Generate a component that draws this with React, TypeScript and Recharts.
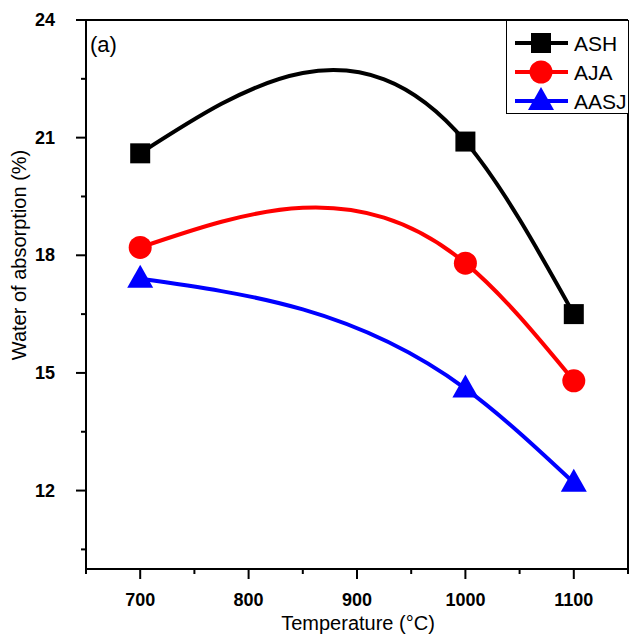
import React from 'react';
import { LineChart, Line, XAxis, YAxis, ReferenceLine, Legend } from 'recharts';

const temps = [700, 1000, 1100];
const ash = [20.6, 20.9, 16.5];
const aja = [18.2, 17.8, 14.8];
const aasj = [17.4, 14.6, 12.2];

const xTicks = [650, 700, 750, 800, 850, 900, 950, 1000, 1050, 1100, 1150];
const xMajor = [700, 800, 900, 1000, 1100];
const yTicks = [10.5, 12, 13.5, 15, 16.5, 18, 19.5, 21, 22.5, 24];
const yMajor = [12, 15, 18, 21, 24];

const data = temps.map((t, i) => ({ temp: t, ASH: ash[i], AJA: aja[i], AASJ: aasj[i] }));

const FONT = "Arial, 'Liberation Sans', sans-serif";

const series = [
  { key: 'ASH', color: '#000000', shape: 'square' },
  { key: 'AJA', color: '#ff0000', shape: 'circle' },
  { key: 'AASJ', color: '#0000ff', shape: 'triangle' },
];

// natural cubic spline y(x) through the scaled points (like Origin's spline connector)
const naturalSplineX = (context: any) => {
  let xs: number[] = [];
  let ys: number[] = [];
  return {
    areaStart() {},
    areaEnd() {},
    lineStart() {
      xs = [];
      ys = [];
    },
    point(x: number, y: number) {
      xs.push(+x);
      ys.push(+y);
    },
    lineEnd() {
      const n = xs.length;
      if (!n) return;
      context.moveTo(xs[0], ys[0]);
      if (n === 1) return;
      if (n === 2) {
        context.lineTo(xs[1], ys[1]);
        return;
      }
      const h: number[] = [];
      for (let i = 0; i < n - 1; i++) h.push(xs[i + 1] - xs[i]);
      const M = new Array(n).fill(0);
      const a: number[] = [], b: number[] = [], c: number[] = [], r: number[] = [];
      for (let i = 1; i < n - 1; i++) {
        a.push(h[i - 1]);
        b.push(2 * (h[i - 1] + h[i]));
        c.push(h[i]);
        r.push(6 * ((ys[i + 1] - ys[i]) / h[i] - (ys[i] - ys[i - 1]) / h[i - 1]));
      }
      const m = b.length;
      for (let i = 1; i < m; i++) {
        const w = a[i] / b[i - 1];
        b[i] -= w * c[i - 1];
        r[i] -= w * r[i - 1];
      }
      const sol = new Array(m).fill(0);
      sol[m - 1] = r[m - 1] / b[m - 1];
      for (let i = m - 2; i >= 0; i--) sol[i] = (r[i] - c[i] * sol[i + 1]) / b[i];
      for (let i = 0; i < m; i++) M[i + 1] = sol[i];
      const d: number[] = [];
      for (let i = 0; i < n - 1; i++) d.push((ys[i + 1] - ys[i]) / h[i] - (h[i] * (2 * M[i] + M[i + 1])) / 6);
      d.push((ys[n - 1] - ys[n - 2]) / h[n - 2] + (h[n - 2] * (M[n - 2] + 2 * M[n - 1])) / 6);
      for (let i = 0; i < n - 1; i++) {
        const k = h[i] / 3;
        context.bezierCurveTo(xs[i] + k, ys[i] + d[i] * k, xs[i + 1] - k, ys[i + 1] - d[i + 1] * k, xs[i + 1], ys[i + 1]);
      }
    },
  };
};

const Marker = ({ cx, cy, shape, color }: any) => {
  if (shape === 'square') return <rect x={cx - 10} y={cy - 10} width={20} height={20} fill={color} />;
  if (shape === 'circle') return <circle cx={cx} cy={cy} r={11.5} fill={color} />;
  return <polygon points={`${cx},${cy - 14} ${cx + 13},${cy + 9} ${cx - 13},${cy + 9}`} fill={color} />;
};

const makeDot = (shape: string, color: string) => (props: any) =>
  <Marker key={`${shape}-${props.index}`} cx={props.cx} cy={props.cy} shape={shape} color={color} />;

const XTick = ({ x, y, payload }: any) => {
  const major = xMajor.includes(payload.value);
  return (
    <g>
      <line x1={x} x2={x} y1={y} y2={y + (major ? 10 : 5)} stroke="#000" strokeWidth={2} />
      {major && (
        <text x={x} y={y + 31} textAnchor="middle" dominantBaseline="central" fontSize={18} fontWeight="bold" fontFamily={FONT} fill="#000">
          {payload.value}
        </text>
      )}
    </g>
  );
};

const YTick = ({ x, y, payload }: any) => {
  const major = yMajor.includes(payload.value);
  return (
    <g>
      <line x1={x} x2={x - (major ? 10 : 5)} y1={y} y2={y} stroke="#000" strokeWidth={2} />
      {major && (
        <text x={x - 31} y={y} textAnchor="end" dominantBaseline="central" fontSize={18} fontWeight="bold" fontFamily={FONT} fill="#000">
          {payload.value}
        </text>
      )}
    </g>
  );
};

const LegendBox = () => (
  <div style={{ width: 123, height: 94, border: '1px solid #000', background: '#fff', boxSizing: 'border-box' }}>
    <svg width={121} height={92}>
      {series.map((s, i) => {
        const cy = 22 + i * 29;
        return (
          <g key={s.key}>
            <line x1={8} x2={61} y1={cy} y2={cy} stroke={s.color} strokeWidth={4} />
            <Marker cx={34} cy={cy} shape={s.shape} color={s.color} />
            <text x={67} y={cy} dominantBaseline="central" fontSize={21} fontFamily={FONT} fill="#000">{s.key}</text>
          </g>
        );
      })}
    </svg>
  </div>
);

export default function App() {
  return (
    <div style={{ position: 'absolute', left: 0, top: 0, width: 630, height: 634, background: '#fff' }}>
      <LineChart width={630} height={634} data={data} margin={{ top: 20, right: 2, left: 0, bottom: 0 }}>
        <XAxis
          dataKey="temp"
          type="number"
          domain={[650, 1150]}
          ticks={xTicks}
          interval={0}
          tickSize={0}
          tickMargin={0}
          tickLine={false}
          tick={<XTick />}
          height={65}
          axisLine={{ stroke: '#000', strokeWidth: 2 }}
          label={{
            content: () => (
              <text x={358} y={623} textAnchor="middle" dominantBaseline="central" fontSize={20} fontFamily={FONT} fill="#000">
                Temperature (°C)
              </text>
            ),
          }}
        />
        <YAxis
          type="number"
          domain={[10, 24]}
          ticks={yTicks}
          interval={0}
          tickSize={0}
          tickMargin={0}
          tickLine={false}
          tick={<YTick />}
          width={86}
          axisLine={{ stroke: '#000', strokeWidth: 2 }}
          label={{
            content: () => (
              <text x={19} y={255} transform="rotate(-90 19 255)" textAnchor="middle" dominantBaseline="central" fontSize={20} fontFamily={FONT} fill="#000">
                Water of absorption (%)
              </text>
            ),
          }}
        />
        <ReferenceLine y={24} stroke="#000" strokeWidth={2} />
        <ReferenceLine x={1150} stroke="#000" strokeWidth={2} />
        {series.map((s) => (
          <Line
            key={s.key}
            dataKey={s.key}
            type={naturalSplineX as any}
            stroke={s.color}
            strokeWidth={4}
            dot={makeDot(s.shape, s.color)}
            activeDot={false}
            isAnimationActive={false}
          />
        ))}
        <Legend
          layout="horizontal"
          verticalAlign="middle"
          align="center"
          content={() => <LegendBox />}
          wrapperStyle={{ position: 'absolute', left: 506, top: 20, width: 123, height: 94 }}
        />
      </LineChart>
      <div style={{ position: 'absolute', left: 90, top: 32, fontSize: 22, fontFamily: FONT, color: '#000', lineHeight: '26px' }}>(a)</div>
    </div>
  );
}
